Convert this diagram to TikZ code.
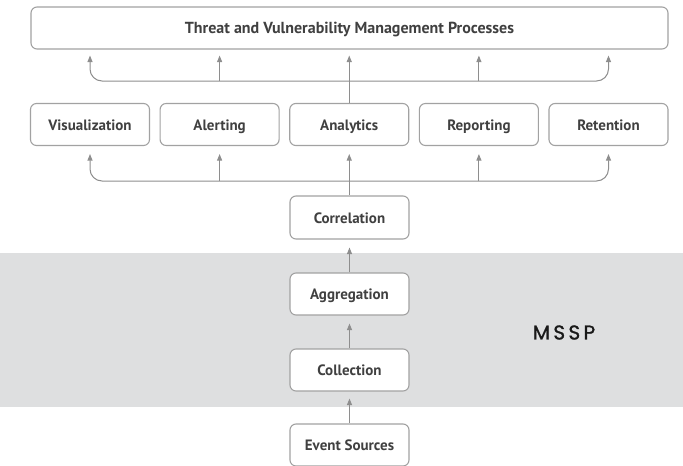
\documentclass[tikz,border=0pt]{standalone}
\usepackage{fontspec}
\usetikzlibrary{arrows.meta}
\newfontfamily\lblfont{PT Sans}
\newfontfamily\msspfont{Poppins}[FakeBold=1.2]
\definecolor{boxgray}{HTML}{A2A2A2}
\definecolor{arrgray}{HTML}{8E8E8E}
\definecolor{txtgray}{HTML}{404040}
\definecolor{bandgray}{HTML}{DEDFE0}
\tikzset{
  procbox/.style={draw=boxgray, line width=1.1pt, rounded corners=6pt, fill=white,
    minimum width=119pt, minimum height=42pt, inner sep=0pt, text=txtgray,
    text height=13pt, text depth=2pt,
    font=\lblfont\bfseries\fontsize{15}{18}\selectfont},
  arr/.style={draw=arrgray, line width=1pt, -{Triangle[length=6.5pt,width=5pt]}},
}
\begin{document}
\begin{tikzpicture}[x=1pt,y=-1pt]
\useasboundingbox (0,0) rectangle (683,466);
\fill[bandgray] (0,253) rectangle (683,407);
\node[procbox, minimum width=637pt, font=\lblfont\bfseries\fontsize{16}{19}\selectfont] (top) at (349.5,28) {Threat and Vulnerability Management Processes};
\node[procbox] (vis) at (90,124.5) {Visualization};
\node[procbox] (ale) at (219.6,124.5) {Alerting};
\node[procbox] (ana) at (349.25,124.5) {Analytics};
\node[procbox] (rep) at (478.9,124.5) {Reporting};
\node[procbox] (ret) at (608.5,124.5) {Retention};
\node[procbox, minimum height=43pt] (cor) at (349.5,217.5) {Correlation};
\node[procbox] (agg) at (349.5,294) {Aggregation};
\node[procbox] (col) at (349.5,370) {Collection};
\node[procbox] (evt) at (349.5,445) {Event Sources};
\node[text=black!90, font=\msspfont\fontsize{20}{24}\selectfont, inner sep=0pt] (mssp) at (564,332.5) {M\,S\,S\,P};
% upper fan-out
\coordinate (hub1) at (349.25,81);
\draw[arr] (ana.north) -- ([yshift=-6pt]top.south -| ana.north);
\draw[arr, rounded corners=12pt] (hub1) -| ([yshift=-6pt]top.south -| vis.north);
\draw[arr, rounded corners=12pt] (hub1) -| ([yshift=-6pt]top.south -| ret.north);
\draw[arr] (hub1 -| ale.north) -- ([yshift=-6pt]top.south -| ale.north);
\draw[arr] (hub1 -| rep.north) -- ([yshift=-6pt]top.south -| rep.north);
% lower fan-out
\coordinate (hub2) at (349.25,181);
\draw[arr] (cor.north -| ana.south) -- ([yshift=-8pt]ana.south);
\draw[arr, rounded corners=12pt] (hub2) -| ([yshift=-8pt]vis.south);
\draw[arr, rounded corners=12pt] (hub2) -| ([yshift=-8pt]ret.south);
\draw[arr] (hub2 -| ale.south) -- ([yshift=-8pt]ale.south);
\draw[arr] (hub2 -| rep.south) -- ([yshift=-8pt]rep.south);
% chain
\draw[arr] (agg.north) -- ([yshift=-8pt]cor.south);
\draw[arr] (col.north) -- ([yshift=-8pt]agg.south);
\draw[arr] (evt.north) -- ([yshift=-7pt]col.south);
\end{tikzpicture}
\end{document}
